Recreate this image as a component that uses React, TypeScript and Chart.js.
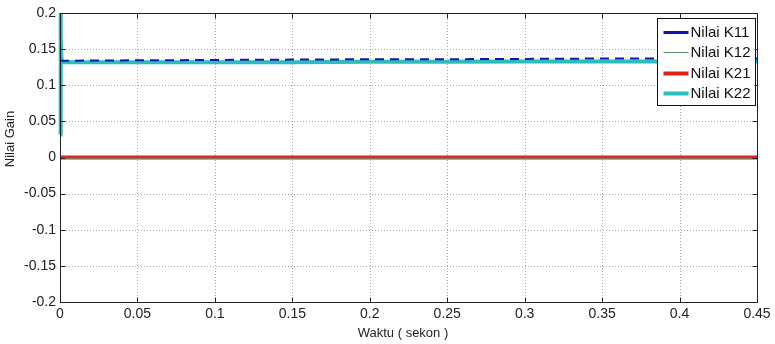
import React, { useEffect, useRef } from "react";
import { Chart, registerables } from "chart.js";

Chart.register(...registerables);

const time = [0, 0.0003, 0.0006, 0.001, 0.002, 0.05, 0.1, 0.15, 0.2, 0.25, 0.3, 0.35, 0.4, 0.45, 0.468];
const k11 = [0.134, 0.134, 0.134, 0.134, 0.134, 0.1345, 0.135, 0.1355, 0.136, 0.136, 0.1365, 0.137, 0.137, 0.137, 0.137];
const k12 = [0, -0.001, -0.001, -0.001, -0.001, -0.001, -0.001, -0.001, -0.001, -0.001, -0.001, -0.001, -0.001, -0.001, -0.001];
const k21 = [0, 0, 0, 0, 0, 0, 0, 0, 0, 0, 0, 0, 0, 0, 0];
const k22 = [0.032, 0.2, 0.165, 0.135, 0.132, 0.132, 0.132, 0.132, 0.1325, 0.1325, 0.133, 0.133, 0.133, 0.133, 0.133];

const seriesLabels = ["Nilai K11", "Nilai K12", "Nilai K21", "Nilai K22"];
const seriesColors = ["#1414b4", "#5f8f6f", "#e0201c", "#2cbcbc"];
const seriesWidths = [2, 1, 4, 4];
const legendWidths = [3, 1, 4, 4];

const xTitle = "Waktu ( sekon )";
const yTitle = "Nilai Gain";

const FONT = "'Liberation Sans', Arial, sans-serif";

const fmt = (v: number) => {
  const r = Math.round(v * 100) / 100;
  return String(r);
};

const framePlugin = {
  id: "frame",
  beforeDatasetsDraw(chart: any) {
    const { ctx, chartArea: a, scales } = chart;
    ctx.save();
    ctx.strokeStyle = "#a8a8a8";
    ctx.lineWidth = 1;
    ctx.setLineDash([1, 2]);
    scales.x.ticks.forEach((t: any) => {
      const px = Math.round(scales.x.getPixelForValue(t.value)) + 0.5;
      if (px <= a.left + 1 || px >= a.right - 1) return;
      ctx.beginPath();
      ctx.moveTo(px, a.top);
      ctx.lineTo(px, a.bottom);
      ctx.stroke();
    });
    scales.y.ticks.forEach((t: any) => {
      const py = Math.round(scales.y.getPixelForValue(t.value)) + 0.5;
      if (py <= a.top + 1 || py >= a.bottom - 1) return;
      ctx.beginPath();
      ctx.moveTo(a.left, py);
      ctx.lineTo(a.right, py);
      ctx.stroke();
    });
    ctx.restore();
  },
  afterDatasetsDraw(chart: any) {
    const { ctx, chartArea: a, scales } = chart;
    ctx.save();
    ctx.setLineDash([]);
    ctx.strokeStyle = "#222";
    ctx.lineWidth = 1;
    const L = Math.round(a.left) + 0.5;
    const R = Math.round(a.right) + 0.5;
    const T = Math.round(a.top) + 0.5;
    const B = Math.round(a.bottom) + 0.5;
    ctx.strokeRect(L, T, R - L, B - T);
    const tl = 5;
    scales.x.ticks.forEach((t: any) => {
      const px = Math.round(scales.x.getPixelForValue(t.value)) + 0.5;
      ctx.beginPath();
      ctx.moveTo(px, B);
      ctx.lineTo(px, B - tl);
      ctx.moveTo(px, T);
      ctx.lineTo(px, T + tl);
      ctx.stroke();
    });
    scales.y.ticks.forEach((t: any) => {
      const py = Math.round(scales.y.getPixelForValue(t.value)) + 0.5;
      ctx.beginPath();
      ctx.moveTo(L, py);
      ctx.lineTo(L + tl, py);
      ctx.moveTo(R, py);
      ctx.lineTo(R - tl, py);
      ctx.stroke();
    });
    ctx.restore();
  },
  afterDraw(chart: any) {
    const { ctx } = chart;
    ctx.save();
    // axis titles
    ctx.fillStyle = "#222";
    ctx.font = `13px ${FONT}`;
    ctx.textAlign = "center";
    ctx.textBaseline = "middle";
    ctx.fillText(xTitle, 403, 333);
    ctx.save();
    ctx.translate(10, 139);
    ctx.rotate(-Math.PI / 2);
    ctx.fillText(yTitle, 0, 0);
    ctx.restore();

    // legend
    const bx = 657.5, by = 18.5, bw = 98, bh = 87;
    ctx.fillStyle = "#fff";
    ctx.fillRect(bx, by, bw, bh);
    ctx.strokeStyle = "#111";
    ctx.lineWidth = 1;
    ctx.setLineDash([]);
    ctx.strokeRect(bx, by, bw, bh);
    ctx.font = `15px ${FONT}`;
    ctx.textBaseline = "middle";
    ctx.textAlign = "left";
    seriesLabels.forEach((lab, i) => {
      const y = by + 13 + i * 20.5;
      ctx.strokeStyle = seriesColors[i];
      ctx.lineWidth = legendWidths[i];
      ctx.beginPath();
      ctx.moveTo(bx + 6, Math.round(y) + 0.5);
      ctx.lineTo(bx + 31, Math.round(y) + 0.5);
      ctx.stroke();
      ctx.fillStyle = "#111";
      ctx.fillText(lab, bx + 33, y + 1);
    });
    ctx.restore();
  },
};

export default function App() {
  const ref = useRef<HTMLCanvasElement>(null);
  useEffect(() => {
    if (!ref.current) return;
    const mk = (vals: number[]) => time.map((t, i) => ({ x: t, y: vals[i] }));
    const all = [k11, k12, k21, k22];
    const chart = new Chart(ref.current, {
      type: "line",
      data: {
        datasets: all.map((vals, i) => ({
          label: seriesLabels[i],
          data: mk(vals),
          borderColor: seriesColors[i],
          backgroundColor: seriesColors[i],
          borderWidth: seriesWidths[i],
          borderDash: i === 0 ? [9, 6] : [],
          pointRadius: 0,
          tension: 0,
          fill: false,
          clip: { left: 2, top: 2, right: 18, bottom: 2 },
        })),
      },
      options: {
        responsive: false,
        animation: false,
        events: [],
        layout: { padding: { top: 13, right: 18, left: 0, bottom: 0 } },
        plugins: { legend: { display: false }, tooltip: { enabled: false } },
        scales: {
          x: {
            type: "linear",
            min: 0,
            max: 0.45,
            grid: { display: false, drawTicks: false },
            border: { display: false },
            ticks: {
              stepSize: 0.05,
              padding: 4,
              color: "#222",
              font: { family: FONT, size: 14 },
              maxRotation: 0,
              autoSkip: false,
              callback: (v: any) => fmt(Number(v)),
            },
            title: { display: false },
            afterFit: (s: any) => {
              s.height = 42;
            },
          },
          y: {
            type: "linear",
            min: -0.2,
            max: 0.2,
            grid: { display: false, drawTicks: false },
            border: { display: false },
            ticks: {
              stepSize: 0.05,
              padding: 4,
              color: "#222",
              font: { family: FONT, size: 14 },
              autoSkip: false,
              callback: (v: any) => fmt(Number(v)),
            },
            title: { display: false },
            afterFit: (s: any) => {
              s.width = 60;
            },
          },
        },
      },
      plugins: [framePlugin],
    } as any);
    return () => chart.destroy();
  }, []);
  return (
    <div style={{ position: "absolute", left: 0, top: 0, width: 775, height: 344, background: "#fff" }}>
      <canvas ref={ref} width={775} height={344} style={{ display: "block" }} />
    </div>
  );
}
